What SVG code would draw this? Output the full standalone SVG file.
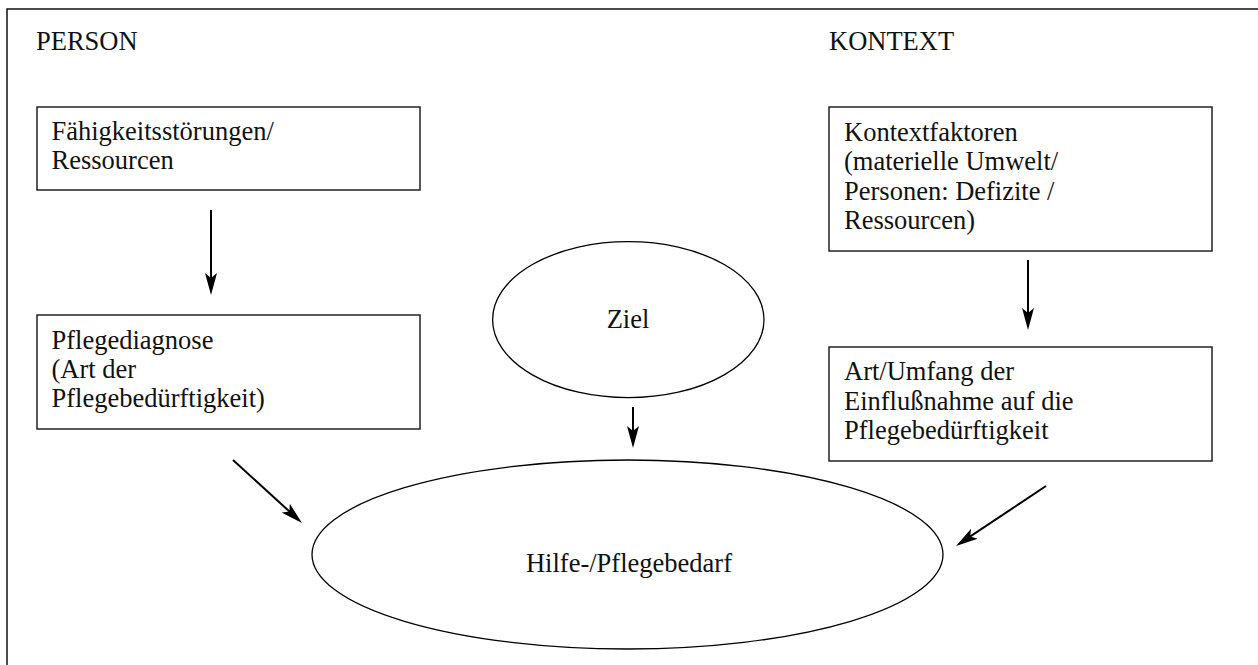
<svg xmlns="http://www.w3.org/2000/svg" width="1258" height="665" viewBox="0 0 1258 665">
<style>
  .box { fill: #fff; stroke: #222; stroke-width: 1.5; }
  .ell { fill: #fff; stroke: #000; stroke-width: 1.3; }
  .conn { stroke: #000; stroke-width: 2; fill: none; marker-end: url(#arr); }
  .frame { fill: none; stroke: #111; stroke-width: 1.5; }
</style>
<defs>
  <marker id="arr" markerUnits="userSpaceOnUse" viewBox="0 0 22 12" refX="17" refY="6" markerWidth="22" markerHeight="12" orient="auto">
    <path d="M0,0 L22,6 L0,12 L5,6 Z" fill="#000"/>
  </marker>
</defs>
<rect width="1258" height="665" fill="#fff"/>
<path class="frame" d="M7,670 V9 H1265"/>

<g font-family="'Liberation Serif', 'Times New Roman', Times, serif" font-size="26.5" fill="#111">
<g id="label-person"><text x="36" y="50">PERSON</text></g>
<g id="label-kontext"><text x="829" y="50">KONTEXT</text></g>

<g id="node-faehigkeit">
  <rect class="box" x="37" y="107" width="383" height="83"/>
  <text x="51.5" y="140">Fähigkeitsstörungen/</text>
  <text x="51.5" y="169">Ressourcen</text>
</g>
<g id="node-pflegediagnose">
  <rect class="box" x="37" y="315" width="383" height="114"/>
  <text x="51.5" y="349">Pflegediagnose</text>
  <text x="51.5" y="378">(Art der</text>
  <text x="51.5" y="407">Pflegebedürftigkeit)</text>
</g>
<g id="node-ziel">
  <ellipse class="ell" cx="628.3" cy="319.7" rx="135.7" ry="78"/>
  <text x="628" y="328" text-anchor="middle">Ziel</text>
</g>
<g id="node-kontextfaktoren">
  <rect class="box" x="829" y="107" width="383" height="144"/>
  <text x="844" y="141">Kontextfaktoren</text>
  <text x="844" y="170">(materielle Umwelt/</text>
  <text x="844" y="199.5">Personen: Defizite /</text>
  <text x="844" y="229">Ressourcen)</text>
</g>
<g id="node-einfluss">
  <rect class="box" x="829" y="347" width="383" height="114"/>
  <text x="844" y="380">Art/Umfang der</text>
  <text x="844" y="409.5">Einflußnahme auf die</text>
  <text x="844" y="439">Pflegebedürftigkeit</text>
</g>
<g id="node-hilfe">
  <ellipse class="ell" cx="627.5" cy="554.5" rx="315.5" ry="94.5"/>
  <text x="629" y="572" text-anchor="middle">Hilfe-/Pflegebedarf</text>
</g>
</g>

<g id="connectors">
  <line class="conn" x1="211" y1="210" x2="211" y2="290"/>
  <line class="conn" x1="633" y1="407" x2="633" y2="443"/>
  <line class="conn" x1="1028" y1="260" x2="1028" y2="325"/>
  <line class="conn" x1="233" y1="460" x2="298.3" y2="519.6"/>
  <line class="conn" x1="1046" y1="486" x2="960.2" y2="543.2"/>
</g>
</svg>
